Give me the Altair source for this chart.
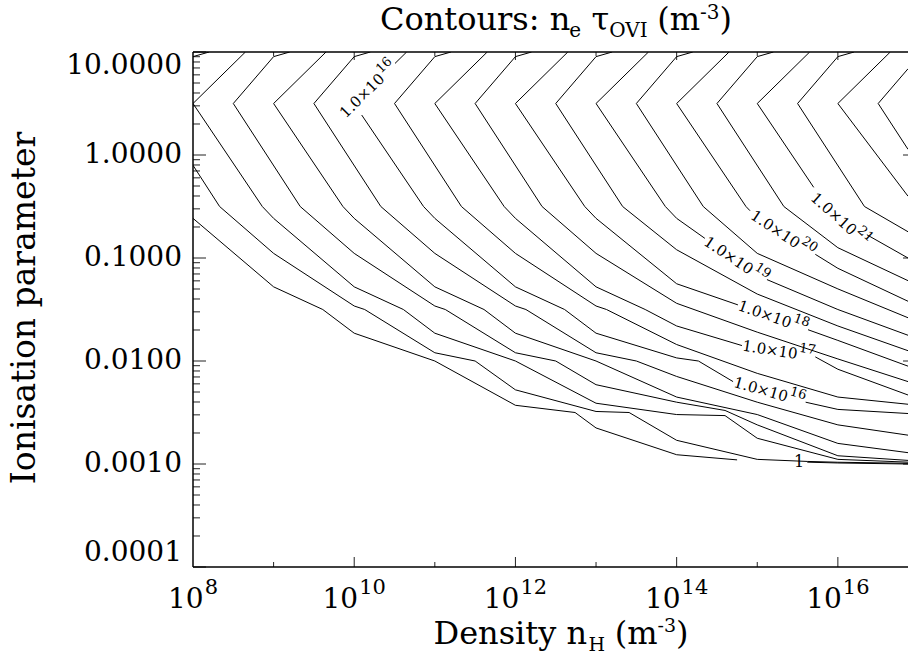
import math
import altair as alt
import pandas as pd

# ---------------- values ----------------
# x: log10 density n_H (m^-3), y: log10 ionisation parameter
X_MIN, X_MAX = 8.0, 16.87          # the figure is cut on the right at ~10^16.87
Y_MIN, Y_MAX = -4.0, 1.0
Y_TICK_VALUES = [-4, -3, -2, -1, 0, 1]
Y_TICK_LABELS = ["0.0001", "0.0010", "0.0100", "0.1000", "1.0000", "10.0000"]
X_LABEL_TICKS = [8, 10, 12, 14, 16]
X_MINOR_TICKS = [9, 11, 13, 15]
RIGHT_TICKS = [0, -1, -2, -3]

# contour lines of n_e*tau_OVI, vertices (log10 n_H, log10 U)
# *_top : arm from the upper edge down to the chevron vertex, *_body : from the vertex onward
C130_top = []
C130_body = [(8.0, -0.615), (9.0, -1.28), (9.61, -1.5), (10.0, -1.73), (11.0, -2.0), (12.0, -2.43),
             (12.74, -2.5), (13.0, -2.65), (14.0, -2.91), (14.75, -2.96), (15.62, -2.982),
             (16.0, -2.99), (16.87, -3.0)]
C135_top = [(8.2, 1.0), (8.0, 0.955)]
C135_body = [(8.0, -0.10), (8.33, -0.5), (9.0, -0.955), (10.0, -1.466), (10.13, -1.5), (11.0, -1.92),
             (11.5, -2.0), (12.0, -2.28), (13.0, -2.49), (13.41, -2.5), (14.0, -2.77), (15.0, -2.955),
             (15.62, -2.975), (16.0, -2.983), (16.87, -2.993)]
C140_top = [(8.65, 1.0), (8.0, 0.5)]
C140_body = [(8.0, 0.5), (8.86, -0.5), (9.0, -0.615), (10.0, -1.28), (10.61, -1.5), (11.0, -1.73),
             (12.0, -2.0), (13.0, -2.41), (14.0, -2.52), (14.6, -2.53), (15.0, -2.75), (16.0, -2.955),
             (16.87, -2.982)]
C145_top = [(9.2, 1.0), (9.0, 0.955), (8.5, 0.5)]
C145_body = [(8.5, 0.5), (9.33, -0.5), (10.0, -0.955), (11.0, -1.466), (11.13, -1.5), (12.0, -1.92),
             (12.5, -2.0), (13.0, -2.23), (14.0, -2.40), (14.6, -2.48), (15.0, -2.62), (16.0, -2.92),
             (16.87, -2.965)]
C150_top = [(9.65, 1.0), (9.0, 0.5)]
C150_body = [(9.0, 0.5), (9.86, -0.5), (10.0, -0.615), (11.0, -1.28), (11.61, -1.5), (12.0, -1.73),
             (13.0, -2.0), (14.0, -2.35), (15.0, -2.52), (16.0, -2.80), (16.87, -2.89)]
C155_top = [(10.2, 1.0), (10.0, 0.955), (9.5, 0.5)]
C155_body = [(9.5, 0.5), (10.33, -0.5), (11.0, -0.955), (12.0, -1.466), (12.13, -1.5), (13.0, -1.92),
             (13.5, -2.0), (14.0, -2.15), (15.0, -2.40), (16.0, -2.62), (16.87, -2.72)]
C160_top = [(10.65, 1.0), (10.506, 0.889)]          # broken by the label over the vertex
C160_body = [(10.093, 0.388), (10.86, -0.5), (11.0, -0.615), (12.0, -1.28), (12.61, -1.5), (13.0, -1.73),
             (14.0, -1.97), (14.27, -2.0), (14.70, -2.20), (15.60, -2.40), (16.0, -2.47), (16.87, -2.51)]
C165_top = [(11.2, 1.0), (11.0, 0.955), (10.5, 0.5)]
C165_body = [(10.5, 0.5), (11.33, -0.5), (12.0, -0.955), (13.0, -1.466), (13.13, -1.5), (14.0, -1.84),
             (15.0, -2.12), (16.0, -2.35), (16.87, -2.42)]
C170_top = [(11.65, 1.0), (11.0, 0.5)]
C170_body = [(11.0, 0.5), (11.86, -0.5), (12.0, -0.615), (13.0, -1.28), (13.61, -1.5), (14.0, -1.66),
             (14.81, -1.85), (15.72, -1.96), (16.0, -2.08), (16.87, -2.33)]
C175_top = [(12.2, 1.0), (12.0, 0.955), (11.5, 0.5)]
C175_body = [(11.5, 0.5), (12.33, -0.5), (13.0, -0.955), (14.0, -1.44), (15.0, -1.72), (16.0, -1.98),
             (16.87, -2.20)]
C180_top = [(12.65, 1.0), (12.0, 0.5)]
C180_body = [(12.0, 0.5), (12.86, -0.5), (13.0, -0.615), (14.0, -1.25), (15.0, -1.52), (16.0, -1.80),
             (16.87, -2.05)]
C185_top = [(13.2, 1.0), (13.0, 0.955), (12.5, 0.5)]
C185_body = [(12.5, 0.5), (13.33, -0.5), (14.0, -0.92), (15.0, -1.35), (16.0, -1.66), (16.87, -1.90)]
C190_top = [(13.65, 1.0), (13.0, 0.5)]
C190_body = [(13.0, 0.5), (13.86, -0.5), (14.0, -0.615), (15.0, -1.17), (16.0, -1.50), (16.87, -1.75)]
C195_top = [(14.2, 1.0), (14.0, 0.955), (13.5, 0.5)]
C195_body = [(13.5, 0.5), (14.33, -0.5), (15.0, -0.955), (16.0, -1.30), (16.87, -1.58)]
C200_top = [(14.65, 1.0), (14.0, 0.5)]
C200_body = [(14.0, 0.5), (14.86, -0.5), (15.0, -0.615), (16.0, -1.10), (16.87, -1.42)]
C205_top = [(15.2, 1.0), (15.0, 0.955), (14.5, 0.5)]
C205_body = [(14.5, 0.5), (15.33, -0.5), (16.0, -0.90), (16.87, -1.22)]
C210_top = [(15.65, 1.0), (15.0, 0.5)]
C210_body = [(15.0, 0.5), (15.86, -0.5), (16.0, -0.615), (16.87, -1.0)]
C215_top = [(16.2, 1.0), (16.0, 0.955), (15.5, 0.5)]
C215_body = [(15.5, 0.5), (16.33, -0.5), (16.87, -0.745)]
C220_top = [(16.65, 1.0), (16.0, 0.5)]
C220_body = [(16.0, 0.5), (16.87, -0.40)]
C225_top = [(16.87, 0.837), (16.5, 0.5)]
C225_body = [(16.5, 0.5), (16.87, 0.055)]

# (name, top arm, body, label gap in log10 n_H)
CONTOURS = [
    ("c130", C130_top, C130_body, (14.75, 15.62)),
    ("c135", C135_top, C135_body, None),
    ("c140", C140_top, C140_body, None),
    ("c145", C145_top, C145_body, None),
    ("c150", C150_top, C150_body, None),
    ("c155", C155_top, C155_body, None),
    ("c160", C160_top, C160_body, (14.70, 15.60)),
    ("c165", C165_top, C165_body, None),
    ("c170", C170_top, C170_body, (14.81, 15.72)),
    ("c175", C175_top, C175_body, None),
    ("c180", C180_top, C180_body, (14.76, 15.63)),
    ("c185", C185_top, C185_body, None),
    ("c190", C190_top, C190_body, (14.35, 15.12)),
    ("c195", C195_top, C195_body, None),
    ("c200", C200_top, C200_body, (14.91, 15.72)),
    ("c205", C205_top, C205_body, None),
    ("c210", C210_top, C210_body, (15.70, 16.36)),
    ("c215", C215_top, C215_body, None),
    ("c220", C220_top, C220_body, None),
    ("c225", C225_top, C225_body, None),
]

# contour labels: exponent, line body, gap it sits in
LABEL_ON_GAP = [("16", C160_body, (14.70, 15.60)), ("17", C170_body, (14.81, 15.72)),
                ("18", C180_body, (14.76, 15.63)), ("19", C190_body, (14.35, 15.12)),
                ("20", C200_body, (14.91, 15.72)), ("21", C210_body, (15.70, 16.36))]
LABEL_16_ARM = [(10.0, 0.5), (10.65, 1.0)]   # upper-left label lies on this arm
LABEL_16_ARM_CENTRE = 10.176
LABEL_ONE_X = 15.52                          # the "1" label on the lowest contour

TITLE_PIECES = [("Contours: n", "main"), ("e", "sub"), (" τ", "main"), ("OVI", "sub"),
                (" (m", "main"), ("-3", "sup"), (")", "main")]
XTITLE_PIECES = [("Density n", "main"), ("H", "sub"), (" (m", "main"), ("-3", "sup"), (")", "main")]
Y_TITLE = "Ionisation parameter"

# ---------------- layout ----------------
W, H = 715, 515
PAD = {"left": 193, "top": 52, "right": 0, "bottom": 89}
PXX = W / (X_MAX - X_MIN)
PXY = H / (Y_MAX - Y_MIN)
FONT = "DejaVu Serif"

EM = {' ': 0.318, '(': 0.390, ')': 0.390, '-': 0.338, '.': 0.318, ':': 0.337, '×': 0.838,
      'C': 0.729, 'D': 0.830, 'H': 0.836, 'I': 0.378, 'O': 0.787, 'V': 0.722,
      'a': 0.596, 'e': 0.592, 'i': 0.320, 'm': 0.950, 'n': 0.646, 'o': 0.602, 'p': 0.642,
      'r': 0.478, 's': 0.513, 't': 0.403, 'u': 0.646, 'y': 0.580, 'τ': 0.560}
for d in "0123456789":
    EM[d] = 0.636


def tw(s, fs):
    return fs * sum(EM.get(c, 0.6) for c in s)


def interp(pts, x):
    for (x0, y0), (x1, y1) in zip(pts, pts[1:]):
        if x1 > x0 and x0 <= x <= x1:
            return y0 + (y1 - y0) * (x - x0) / (x1 - x0)
    return pts[-1][1]


def split(body, gap):
    if gap is None:
        return body, None
    a, b = gap
    before = [p for p in body if p[0] < a] + [(a, interp(body, a))]
    after = [(b, interp(body, b))] + [p for p in body if p[0] > b]
    return before, after


line_rows = []


def add_piece(name, pts):
    for k, (x, y) in enumerate(pts):
        line_rows.append({"piece": name, "k": k, "lx": x, "ly": y})


for name, top, body, gap in CONTOURS:
    first, second = split(body, gap)
    if top and top[-1] == first[0]:
        add_piece(name + "a", top + first[1:])
    else:
        if top:
            add_piece(name + "t", top)
        add_piece(name + "a", first)
    if second:
        add_piece(name + "b", second)
line_df = pd.DataFrame(line_rows)


def angle_between(p, q):
    dxp = (q[0] - p[0]) * PXX
    dyp = -(q[1] - p[1]) * PXY
    return math.degrees(math.atan2(dyp, dxp)) % 360


label_rows = []


def add_label(exp, cx, cy, ang, fs=15, fe=13, raise_px=6.5):
    wb = tw("1.0×10", fs)
    we = tw(exp, fe)
    total = wb + 1 + we
    t = math.radians(ang)
    ux, uy = math.cos(t), math.sin(t)
    nx, ny = math.sin(t), -math.cos(t)
    bx, by = -total / 2 * ux, -total / 2 * uy
    ex, ey = bx + (wb + 1) * ux + raise_px * nx, by + (wb + 1) * uy + raise_px * ny
    label_rows.append({"lx": cx + bx / PXX, "ly": cy - by / PXY, "text": "1.0×10", "fs": fs, "angle": ang})
    label_rows.append({"lx": cx + ex / PXX, "ly": cy - ey / PXY, "text": exp, "fs": fe, "angle": ang})


for exp, body, (a, b) in LABEL_ON_GAP:
    cx = (a + b) / 2
    add_label(exp, cx, interp(body, cx), angle_between((a, interp(body, a)), (b, interp(body, b))))
add_label("16", LABEL_16_ARM_CENTRE, interp(LABEL_16_ARM, LABEL_16_ARM_CENTRE),
          angle_between(LABEL_16_ARM[0], LABEL_16_ARM[1]))
label_rows.append({"lx": LABEL_ONE_X - tw("1", 16) / 2 / PXX, "ly": interp(C130_body, LABEL_ONE_X),
                   "text": "1", "fs": 16, "angle": 0})
label_df = pd.DataFrame(label_rows)

# x tick labels "10" with a raised exponent
xlab_rows = []
for t in X_LABEL_TICKS:
    e = str(t)
    wb, we = tw("10", 28), tw(e, 21)
    start = -(wb + 1 + we) / 2
    xlab_rows.append({"lx": t + start / PXX, "py": 556, "text": "10", "fs": 28})
    xlab_rows.append({"lx": t + (start + wb + 1) / PXX, "py": 542, "text": e, "fs": 21})
xlab_df = pd.DataFrame(xlab_rows)


def compose(pieces, cx, base_y, fs_main, fs_small, sub_dy, sup_dy):
    sizes = {"main": fs_main, "sub": fs_small, "sup": fs_small}
    shifts = {"main": 0, "sub": sub_dy, "sup": sup_dy}
    total = sum(tw(t, sizes[k]) for t, k in pieces)
    x = cx - total / 2
    out = []
    for t, k in pieces:
        lead = len(t) - len(t.lstrip(" "))
        out.append({"px": x + tw(" " * lead, sizes[k]), "py": base_y + shifts[k], "text": t.strip(),
                    "fs": sizes[k]})
        x += tw(t, sizes[k])
    return out


ann_df = pd.DataFrame(compose(TITLE_PIECES, 363, -22, 32, 20, 7, -11) +
                      compose(XTITLE_PIECES, 368, 592, 32, 19, 7, -12))

xs = alt.Scale(domain=[X_MIN, X_MAX], nice=False, zero=False)
ys = alt.Scale(domain=[Y_MIN, Y_MAX], nice=False, zero=False)

lines = alt.Chart(line_df).mark_line(color="black", strokeWidth=1, clip=True).encode(
    x=alt.X("lx:Q", scale=xs, axis=None),
    y=alt.Y("ly:Q", scale=ys, axis=None),
    detail="piece:N",
    order=alt.Order("k:Q"),
)

# axis lines
frame_style = dict(color="black", strokeWidth=1.5)
one = pd.DataFrame({"a": [0]})
left_line = alt.Chart(one).mark_rule(**frame_style).encode(x=alt.value(0), y=alt.value(0), y2=alt.value(H))
bottom_line = alt.Chart(one).mark_rule(**frame_style).encode(x=alt.value(0), x2=alt.value(W), y=alt.value(H))
top_line = alt.Chart(one).mark_rule(**frame_style).encode(x=alt.value(0), x2=alt.value(W), y=alt.value(0))

# tick marks (drawn inward, as in the original)
ymaj = pd.DataFrame({"ly": Y_TICK_VALUES})
ymin = pd.DataFrame({"ly": [d + math.log10(m) for d in range(-4, 1) for m in range(2, 10)]})
tick_style = dict(color="#222", strokeWidth=1)
left_major = alt.Chart(ymaj).mark_rule(**tick_style).encode(
    y=alt.Y("ly:Q", scale=ys, axis=None), x=alt.value(0), x2=alt.value(13))
left_minor = alt.Chart(ymin).mark_rule(**tick_style).encode(
    y=alt.Y("ly:Q", scale=ys, axis=None), x=alt.value(0), x2=alt.value(7))
right_major = alt.Chart(pd.DataFrame({"ly": RIGHT_TICKS})).mark_rule(**tick_style).encode(
    y=alt.Y("ly:Q", scale=ys, axis=None), x=alt.value(W - 5), x2=alt.value(W))
xmaj = pd.DataFrame({"lx": X_LABEL_TICKS[1:]})
xmin = pd.DataFrame({"lx": X_MINOR_TICKS})
bottom_major = alt.Chart(xmaj).mark_rule(**tick_style).encode(
    x=alt.X("lx:Q", scale=xs, axis=None), y=alt.value(H), y2=alt.value(H - 10))
bottom_minor = alt.Chart(xmin).mark_rule(**tick_style).encode(
    x=alt.X("lx:Q", scale=xs, axis=None), y=alt.value(H), y2=alt.value(H - 5))
top_major = alt.Chart(xmaj).mark_rule(**tick_style).encode(
    x=alt.X("lx:Q", scale=xs, axis=None), y=alt.value(0), y2=alt.value(8))
top_minor = alt.Chart(xmin).mark_rule(**tick_style).encode(
    x=alt.X("lx:Q", scale=xs, axis=None), y=alt.value(0), y2=alt.value(4))

# y tick labels (first and last flush with the frame, as in the original)
ylab_df = pd.DataFrame({"ly": Y_TICK_VALUES, "text": Y_TICK_LABELS})


def ylab_layer(df, baseline):
    return alt.Chart(df).mark_text(align="right", baseline=baseline, font=FONT, fontSize=28,
                                   color="black").encode(
        y=alt.Y("ly:Q", scale=ys, axis=None), x=alt.value(-11), text="text:N")


ylab_mid = ylab_layer(ylab_df.iloc[1:-1], "middle")
ylab_top = ylab_layer(ylab_df.iloc[-1:], "top")
ylab_bot = ylab_layer(ylab_df.iloc[:1], "bottom")

labels = alt.Chart(label_df).mark_text(align="left", baseline="middle", font=FONT, color="black").encode(
    x=alt.X("lx:Q", scale=xs, axis=None),
    y=alt.Y("ly:Q", scale=ys, axis=None),
    text="text:N",
    size=alt.Size("fs:Q", scale=None, legend=None),
    angle=alt.Angle("angle:Q", scale=None),
)

xlabels = alt.Chart(xlab_df).mark_text(align="left", baseline="alphabetic", font=FONT, color="black").encode(
    x=alt.X("lx:Q", scale=xs, axis=None),
    y=alt.Y("py:Q", scale=None),
    text="text:N",
    size=alt.Size("fs:Q", scale=None, legend=None),
)

annotations = alt.Chart(ann_df).mark_text(align="left", baseline="alphabetic", font=FONT,
                                          color="black").encode(
    x=alt.X("px:Q", scale=None),
    y=alt.Y("py:Q", scale=None),
    text="text:N",
    size=alt.Size("fs:Q", scale=None, legend=None),
)

ytitle = alt.Chart(pd.DataFrame({"t": [Y_TITLE]})).mark_text(
    align="center", baseline="middle", font=FONT, fontSize=33, angle=270, color="black").encode(
    x=alt.value(-168), y=alt.value(256), text="t:N")

chart = alt.layer(
    left_major, left_minor, right_major, bottom_major, bottom_minor, top_major, top_minor,
    left_line, bottom_line, top_line,
    lines, labels, xlabels, ylab_mid, ylab_top, ylab_bot, annotations, ytitle,
).properties(
    width=W, height=H, padding=PAD, autosize=alt.AutoSizeParams(type="none"), background="white",
).configure_view(stroke=None)

chart.save("out.html", embed_options={"renderer": "svg", "actions": False})
